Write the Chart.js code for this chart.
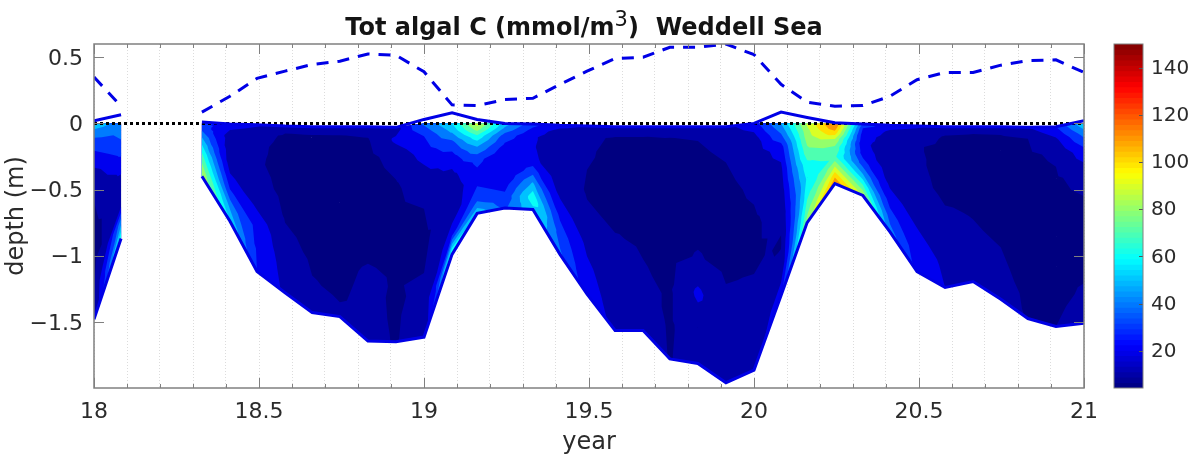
<!DOCTYPE html>
<html lang="en">
<head>
<meta charset="UTF-8">
<title>Tot algal C Weddell Sea</title>
<script src="https://cdn.jsdelivr.net/npm/chart.js"></script>
<style>
    html, body { margin: 0; padding: 0; background: #fff; }
    #wrap { position: relative; width: 1200px; height: 455px; overflow: hidden; }
    #mainChart { position: absolute; left: 0; top: 0; }
    #barChart { position: absolute; left: 1100px; top: 0; }
    #title {
        position: absolute; left: 94px; width: 980px; top: 10px; margin: 0;
        text-align: center; white-space: pre; color: #141414;
        font: bold 24px "DejaVu Sans", sans-serif; line-height: 34px;
    }
    #title sup { font-size: 21px; font-weight: normal; line-height: 0; position: relative; top: -1px; vertical-align: 8px; }
</style>
</head>
<body>
<div id="wrap">
    <canvas id="mainChart" width="1200" height="455"></canvas>
    <canvas id="barChart" width="100" height="455"></canvas>
    <h1 id="title">Tot algal C (mmol/m<sup>3</sup>)  Weddell Sea</h1>
</div>
<script>
    // Sample times (no ice at 18.17 and 18.25)
    const years = [18, 18.082, 18.167, 18.25, 18.327, 18.412, 18.494, 18.579, 18.661, 18.745,
        18.83, 18.915, 19, 19.085, 19.161, 19.245, 19.33, 19.412, 19.494, 19.579,
        19.664, 19.745, 19.83, 19.915, 20, 20.082, 20.161, 20.245, 20.33, 20.412,
        20.494, 20.579, 20.664, 20.748, 20.83, 20.915, 21];

    // Top of snow (dashed)
    const snowTop = [0.35, 0.13, null, null, 0.085, 0.205, 0.34, 0.395, 0.445, 0.47,
        0.525, 0.515, 0.39, 0.14, 0.135, 0.18, 0.19, 0.295, 0.395, 0.49,
        0.5, 0.575, 0.575, 0.6, 0.52, 0.295, 0.16, 0.13, 0.135, 0.205,
        0.33, 0.385, 0.385, 0.44, 0.475, 0.48, 0.385];

    // Top and bottom of ice (solid)
    const iceTop = [0.02, 0.065, null, null, 0.01, -0.005, -0.01, -0.02, -0.025, -0.025,
        -0.025, -0.03, 0.03, 0.08, 0.03, 0, -0.005, -0.015, -0.02, -0.025,
        -0.025, -0.025, -0.025, -0.025, 0, 0.085, 0.045, 0.005, -0.005, -0.015,
        -0.02, -0.025, -0.025, -0.025, -0.03, -0.025, 0.02];
    const iceBottom = [-1.48, -0.87, null, null, -0.4, -0.74, -1.12, -1.28, -1.43, -1.46,
        -1.645, -1.65, -1.615, -0.99, -0.68, -0.64, -0.65, -0.99, -1.29, -1.565,
        -1.565, -1.78, -1.815, -1.96, -1.865, -1.3, -0.75, -0.455, -0.545, -0.82,
        -1.12, -1.24, -1.195, -1.33, -1.475, -1.535, -1.51];

    // Fraction of the way down through the ice for each row of algalC
    const sigma = [0, 0.06, 0.14, 0.26, 0.4, 0.55, 0.7, 0.85, 1];

    // Tot algal C, one list per sample time, top of ice to bottom
    const algalC = [
        [58, 42, 30, 16, 10, 8, 8, 10, 12],
        [45, 42, 40, 32, 22, 15, 15, 45, 70],
        null,
        null,
        [32, 35, 40, 50, 60, 70, 78, 85, 88],
        [28, 20, 15, 14, 15, 22, 32, 48, 60],
        [22, 13, 11.5, 10.8, 13, 18, 28, 29, 30],
        [13, 9, 8, 8, 8, 9.5, 12, 16, 18],
        [13, 9, 8, 7.5, 7.5, 8, 9, 10.5, 13],
        [13, 9, 8, 7, 7, 7, 8, 9, 11],
        [13, 9.5, 8, 7, 7, 8.5, 11, 12, 12],
        [16, 22, 13, 9.5, 8.5, 8, 9.5, 9, 9.5],
        [42, 30, 24, 15, 10, 9, 10, 13, 15],
        [60, 52, 38, 25, 17, 13, 14, 28, 75],
        [95, 85, 68, 50, 33, 28, 30, 38, 58],
        [55, 48, 36, 28, 21, 20, 25, 32, 38],
        [34, 28, 22, 21, 22, 35, 52, 66, 58],
        [24, 14, 11, 12, 15, 19, 28, 36, 42],
        [20, 12, 11, 10, 9.5, 11.5, 18, 22, 25],
        [15, 9, 8, 8, 8, 10.5, 14, 16, 18],
        [15, 9, 8, 8, 8, 9, 10.5, 14, 16],
        [14, 9, 8, 7.5, 7.5, 8, 9, 9, 9.5],
        [14, 10, 8.5, 7.5, 8, 10.5, 22, 15, 14],
        [18, 12, 10, 8.5, 8, 8.5, 12, 14, 16],
        [26, 16, 13, 11, 9, 9, 11.5, 14, 16],
        [50, 40, 25, 18, 14, 11, 9.5, 12, 28],
        [92, 88, 85, 78, 68, 62, 66, 75, 85],
        [122, 118, 108, 90, 78, 72, 88, 105, 120],
        [38, 30, 25, 22, 25, 35, 50, 70, 90],
        [25, 18, 15, 15, 15, 18, 25, 35, 45],
        [22, 14, 10.5, 11, 12, 15, 20, 25, 28],
        [16, 9.5, 8.5, 8, 8.5, 11, 13, 18, 20],
        [14, 9, 8, 8, 8, 9.5, 11, 13, 15],
        [14, 9, 8, 8, 8, 8, 10, 11, 13],
        [20, 10, 9, 8, 8, 8, 8, 9, 9.5],
        [30, 19, 11, 9, 8, 8, 8, 8, 10],
        [58, 42, 26, 13, 9, 8, 8, 11, 14]
    ];

    const contourLevels = [0, 10, 20, 30, 40, 50, 60, 70, 80, 90, 100, 110, 120, 130, 140];
    const barMin = 4.2;
    const barMax = 150;
    const barTicks = [20, 40, 60, 80, 100, 120, 140];
    const depthTicks = [0.5, 0, -0.5, -1, -1.5];

    const textColor = '#2b2b2b';
    const frameColor = '#808080';
    const lineBlue = '#0000e6';

    function jet(v) {
        const t = Math.min(1, Math.max(0, (v - barMin) / (barMax - barMin)));
        const c = x => Math.round(255 * Math.min(1, Math.max(0, x)));
        return 'rgb(' + c(Math.min(4 * t - 1.5, 4.5 - 4 * t)) + ',' +
            c(Math.min(4 * t - 0.5, 3.5 - 4 * t)) + ',' +
            c(Math.min(4 * t + 0.5, 2.5 - 4 * t)) + ')';
    }

    // Keep the part of a triangle where value >= level
    function clipTriangle(tri, level) {
        const out = [];
        for (let i = 0; i < 3; i++) {
            const a = tri[i], b = tri[(i + 1) % 3];
            if (a.v >= level) out.push(a);
            if ((a.v >= level) !== (b.v >= level)) {
                const f = (level - a.v) / (b.v - a.v);
                out.push({ x: a.x + f * (b.x - a.x), y: a.y + f * (b.y - a.y), v: level });
            }
        }
        return out;
    }

    // Filled contours of algalC, drawn under the lines
    const contourPlugin = {
        id: 'contourFill',
        beforeDatasetsDraw(chart) {
            const xs = chart.scales.x, ys = chart.scales.y, ctx = chart.ctx;
            const corner = (col, row) => {
                const top = Math.min(iceTop[col], 0);
                const depth = top + sigma[row] * (iceBottom[col] - top);
                return { x: xs.getPixelForValue(years[col]), y: ys.getPixelForValue(depth), v: algalC[col][row] };
            };
            const tris = [];
            for (let c = 0; c < years.length - 1; c++) {
                if (!algalC[c] || !algalC[c + 1]) continue;
                for (let r = 0; r < sigma.length - 1; r++) {
                    const p = [corner(c, r), corner(c + 1, r), corner(c + 1, r + 1), corner(c, r + 1)];
                    const mid = {
                        x: (p[0].x + p[1].x + p[2].x + p[3].x) / 4,
                        y: (p[0].y + p[1].y + p[2].y + p[3].y) / 4,
                        v: (p[0].v + p[1].v + p[2].v + p[3].v) / 4
                    };
                    for (let i = 0; i < 4; i++) tris.push([p[i], p[(i + 1) % 4], mid]);
                }
            }
            ctx.save();
            contourLevels.forEach(level => {
                ctx.beginPath();
                tris.forEach(tri => {
                    const poly = clipTriangle(tri, level);
                    if (poly.length < 3) return;
                    poly.forEach((pt, i) => i ? ctx.lineTo(pt.x, pt.y) : ctx.moveTo(pt.x, pt.y));
                    ctx.closePath();
                });
                ctx.fillStyle = jet(level);
                ctx.fill();
            });
            ctx.restore();
        }
    };

    // Box round the axes with the inward tick marks on all sides
    const framePlugin = {
        id: 'frameTicks',
        afterDatasetsDraw(chart) {
            const a = chart.chartArea, ctx = chart.ctx;
            ctx.save();
            ctx.strokeStyle = frameColor;
            ctx.lineWidth = 1;
            ctx.beginPath();
            chart.scales.x.ticks.forEach(t => {
                const px = Math.round(chart.scales.x.getPixelForValue(t.value)) + 0.5;
                const len = t.label ? 10 : 4;
                ctx.moveTo(px, a.bottom); ctx.lineTo(px, a.bottom - len);
                ctx.moveTo(px, a.top); ctx.lineTo(px, a.top + len);
            });
            chart.scales.y.ticks.forEach(t => {
                const py = Math.round(chart.scales.y.getPixelForValue(t.value)) + 0.5;
                ctx.moveTo(a.left, py); ctx.lineTo(a.left + 10, py);
                ctx.moveTo(a.right, py); ctx.lineTo(a.right - 10, py);
            });
            ctx.stroke();
            ctx.lineWidth = 1.5;
            ctx.strokeRect(a.left, a.top, a.right - a.left, a.bottom - a.top);
            ctx.restore();
        }
    };

    function toPoints(xArr, yArr) {
        return xArr.map((x, i) => ({ x: x, y: yArr[i] }));
    }

    const tickFont = { family: '"DejaVu Sans", sans-serif', size: 22 };

    new Chart(document.getElementById('mainChart').getContext('2d'), {
        type: 'scatter',
        data: {
            datasets: [
                { label: 'snow', data: toPoints(years, snowTop), borderColor: lineBlue, borderWidth: 3, borderDash: [12, 9] },
                { label: 'ice top', data: toPoints(years, iceTop), borderColor: lineBlue, borderWidth: 3 },
                { label: 'ice bottom', data: toPoints(years, iceBottom), borderColor: lineBlue, borderWidth: 3 },
                { label: 'zero', data: toPoints([18, 21], [0, 0]), borderColor: '#000000', borderWidth: 3, borderDash: [3, 3] }
            ]
        },
        options: {
            responsive: false,
            animation: false,
            showLine: true,
            spanGaps: false,
            elements: { point: { radius: 0 }, line: { tension: 0 } },
            layout: { padding: { left: 0, right: 116, top: 44, bottom: 0 } },
            plugins: { legend: { display: false }, tooltip: { enabled: false } },
            scales: {
                x: {
                    type: 'linear', min: 18, max: 21,
                    afterBuildTicks(scale) {
                        const ticks = [];
                        for (let i = 0; i <= 30; i++) ticks.push({ value: 18 + i / 10 });
                        scale.ticks = ticks;
                    },
                    afterFit(scale) { scale.height = 67; },
                    ticks: {
                        autoSkip: false, maxRotation: 0, padding: 11, color: textColor, font: tickFont,
                        callback(value) {
                            const v = Math.round(value * 10) / 10;
                            return Number.isInteger(v * 2) ? String(v) : '';
                        }
                    },
                    grid: { color: '#dcdcdc', lineWidth: 1, drawTicks: false },
                    border: { display: false, dash: [1, 2] },
                    title: { display: true, text: 'year', color: textColor, font: { family: '"DejaVu Sans", sans-serif', size: 24, lineHeight: 1 }, padding: 0 }
                },
                y: {
                    type: 'linear', min: -2, max: 0.6,
                    afterBuildTicks(scale) { scale.ticks = depthTicks.map(v => ({ value: v })); },
                    afterFit(scale) { scale.width = 94; },
                    ticks: {
                        padding: 11, labelOffset: 2, color: textColor, font: tickFont,
                        callback(value) { return String(value).replace('-', '\u2212'); }
                    },
                    grid: { display: false, drawTicks: false },
                    border: { display: false },
                    title: { display: true, text: 'depth (m)', color: textColor, font: { family: '"DejaVu Sans", sans-serif', size: 24, lineHeight: 1.2 }, padding: { top: 2, bottom: 0 } }
                }
            }
        },
        plugins: [contourPlugin, framePlugin]
    });

    // Colour bar: 64 steps painted from the bottom, each reaching up to the top
    const barDatasets = [];
    for (let i = 63; i >= 0; i--) {
        const lo = barMin + (barMax - barMin) * i / 64;
        barDatasets.push({ data: [[lo, barMax]], backgroundColor: jet(lo + (barMax - barMin) / 128), borderWidth: 0 });
    }

    const barFramePlugin = {
        id: 'barFrame',
        afterDatasetsDraw(chart) {
            const a = chart.chartArea, ctx = chart.ctx;
            ctx.save();
            ctx.strokeStyle = '#555555';
            ctx.lineWidth = 1;
            ctx.beginPath();
            chart.scales.y.ticks.forEach(t => {
                const py = Math.round(chart.scales.y.getPixelForValue(t.value)) + 0.5;
                ctx.moveTo(a.right, py); ctx.lineTo(a.right - 4, py);
            });
            ctx.stroke();
            ctx.strokeStyle = frameColor;
            ctx.strokeRect(a.left, a.top, a.right - a.left, a.bottom - a.top);
            ctx.restore();
        }
    };

    new Chart(document.getElementById('barChart').getContext('2d'), {
        type: 'bar',
        data: { labels: ['algal C'], datasets: barDatasets },
        options: {
            responsive: false,
            animation: false,
            grouped: false,
            barPercentage: 1,
            categoryPercentage: 1,
            layout: { padding: { left: 14, right: 0, top: 44, bottom: 67 } },
            plugins: { legend: { display: false }, tooltip: { enabled: false } },
            scales: {
                x: { display: false },
                y: {
                    position: 'right', min: barMin, max: barMax,
                    afterBuildTicks(scale) { scale.ticks = barTicks.map(v => ({ value: v })); },
                    afterFit(scale) { scale.width = 57; },
                    ticks: { padding: 8, labelOffset: 1, color: textColor, font: { family: '"DejaVu Sans", sans-serif', size: 20 } },
                    grid: { display: false, drawTicks: false },
                    border: { display: false }
                }
            }
        },
        plugins: [barFramePlugin]
    });
</script>
</body>
</html>
